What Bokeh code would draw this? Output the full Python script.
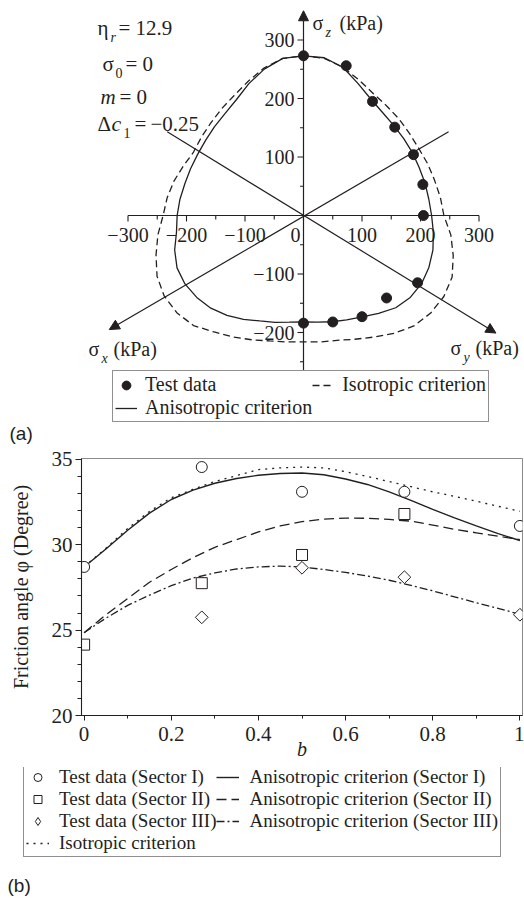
import numpy as np
from bokeh.plotting import figure
from bokeh.models import (Range1d, Arrow, NormalHead, Legend, LegendItem, Label,
                          FixedTicker, CustomJSTickFormatter)
from bokeh.layouts import column
from bokeh.core.properties import value
from bokeh.embed import file_html
from bokeh.resources import INLINE

INK = "#231f20"
SERIF = "Liberation Serif"
SANS = "Liberation Sans"

# ---------------- panel (a) data (kPa, deviatoric plane) ----------------
test_sx = [0, 73, 118, 156, 188, 204, 205, 195, 142, 100, 50, 0]
test_sz = [273, 256, 195, 151, 104, 53, 0, -115, -141, -173, -182, -184]

curve_angle_deg = [0, 7.5, 15, 22.5, 30, 37.5, 45, 52.5, 60, 67.5, 75, 82.5,
                   90, 97.5, 105, 112.5, 120, 127.5, 135, 142.5, 150, 157.5, 165, 172.5,
                   180, 187.5, 195, 202.5, 210, 217.5, 225, 232.5, 240, 247.5, 255, 262.5,
                   270, 277.5, 285, 292.5, 300, 307.5, 315, 322.5, 330, 337.5, 345, 352.5]
aniso_radius = [219, 216, 215, 214, 215, 216, 218, 222, 230, 244, 262, 272,
                273, 271, 259, 244, 229, 220, 215, 211, 209, 209, 210, 213,
                216, 219, 228, 234, 234, 230, 224, 215, 205, 195, 189, 184,
                182, 184, 188, 193, 200, 211, 223, 230, 233, 232, 229, 224]
iso_radius = [240, 236, 232, 230, 228, 229, 232, 235, 240, 250, 262, 271,
              273, 271, 261, 248, 237, 230, 224, 220, 217, 222, 229, 235,
              240, 251, 261, 271, 275, 273, 266, 251, 240, 230, 222, 218,
              216, 218, 221, 229, 240, 254, 267, 274, 277, 275, 265, 254]

h_tick_values = [-300, -250, -200, -150, -100, -50, 0, 50, 100, 150, 200, 250, 300]
h_label_values = [-300, -200, -100, 0, 100, 200, 300]
h_labels = ["\u2212300", "\u2212200", "\u2212100", "0", "100", "200", "300"]
v_tick_values = [-250, -200, -150, -100, -50, 50, 100, 150, 200, 250, 300]
v_label_values = [300, 200, 100, -100, -200]
v_labels = ["300", "200", "100", "\u2212100", "\u2212200"]

# axis line end points (kPa): [start, arrow tip]
sz_axis_x, sz_axis_y = [0, 0], [-268, 350]
sx_axis_x, sx_axis_y = [248, -332], [143, -195]
sy_axis_x, sy_axis_y = [-233, 329], [143, -201]
h_axis_x = [-300, 300]

# ---------------- panel (b) data ----------------
b_test_1 = [0, 0.27, 0.5, 0.735, 1.0]
phi_test_1 = [28.7, 34.55, 33.1, 33.1, 31.1]
b_test_2 = [0, 0.27, 0.5, 0.735]
phi_test_2 = [24.15, 27.75, 29.4, 31.8]
b_test_3 = [0.27, 0.5, 0.735, 1.0]
phi_test_3 = [25.75, 28.65, 28.1, 25.9]

b_curve = [0, 0.05, 0.1, 0.15, 0.2, 0.25, 0.3, 0.35, 0.4, 0.45, 0.5,
           0.55, 0.6, 0.65, 0.7, 0.75, 0.8, 0.85, 0.9, 0.95, 1.0]
phi_aniso_1 = [28.7, 29.75, 30.85, 31.85, 32.65, 33.2, 33.6, 33.88, 34.07, 34.17, 34.2,
               34.1, 33.85, 33.53, 33.1, 32.6, 32.07, 31.57, 31.1, 30.65, 30.25]
phi_aniso_2 = [24.85, 25.9, 26.85, 27.8, 28.55, 29.25, 29.85, 30.3, 30.75, 31.1, 31.35,
               31.5, 31.56, 31.55, 31.48, 31.38, 31.15, 30.9, 30.7, 30.5, 30.3]
phi_aniso_3 = [24.85, 25.7, 26.45, 27.05, 27.6, 28.05, 28.35, 28.58, 28.7, 28.75, 28.7,
               28.55, 28.38, 28.17, 27.92, 27.62, 27.3, 26.95, 26.6, 26.27, 25.93]
phi_iso = [28.7, 29.8, 30.95, 31.95, 32.75, 33.25, 33.7, 34.05, 34.4, 34.5, 34.55,
           34.5, 34.28, 34.0, 33.7, 33.4, 33.1, 32.83, 32.55, 32.25, 31.96]

b_ticks = [0, 0.2, 0.4, 0.6, 0.8, 1.0]
b_minor = [0.1, 0.3, 0.5, 0.7, 0.9]
phi_ticks = [20, 25, 30, 35]
phi_minor = list(range(20, 36))

# =============== panel (a) ===============
WA, HA = 524, 448
S = 0.585          # px per kPa
OX, OY = 303, 215  # pixel position of origin


def X(px):
    return (px - OX) / S


def Y(py):
    return (OY - py) / S


def L(px):
    return px / S


pa = figure(width=WA, height=HA, x_range=Range1d(X(0), X(WA)), y_range=Range1d(Y(HA), Y(0)),
            x_axis_type=None, y_axis_type=None, toolbar_location=None,
            output_backend="svg", min_border=0, outline_line_color=None)
pa.frame_align = False


def txt(p, x, y, s, size, style="normal", align="left", font=SERIF):
    p.text(x=[X(x)], y=[Y(y)], text=[s], text_font=value(font),
           text_font_size=f"{size}px", text_font_style=style, text_align=align,
           text_baseline="middle", text_color=INK)


th = np.deg2rad(np.array(curve_angle_deg + [curve_angle_deg[0]], dtype=float))
ra = np.array(aniso_radius + [aniso_radius[0]], dtype=float)
ri = np.array(iso_radius + [iso_radius[0]], dtype=float)
r_iso = pa.line(ri * np.cos(th), ri * np.sin(th), line_color=INK, line_width=1.3, line_dash="7 4")
r_ani = pa.line(ra * np.cos(th), ra * np.sin(th), line_color=INK, line_width=1.3)

# axes
pa.segment(x0=[h_axis_x[0]], y0=[0], x1=[h_axis_x[1]], y1=[0], line_color=INK, line_width=1.2)
for ax_x, ax_y in [(sz_axis_x, sz_axis_y), (sx_axis_x, sx_axis_y), (sy_axis_x, sy_axis_y)]:
    pa.add_layout(Arrow(end=NormalHead(size=10, fill_color=INK, line_color=INK, line_width=1),
                        x_start=ax_x[0], y_start=ax_y[0], x_end=ax_x[1], y_end=ax_y[1],
                        line_color=INK, line_width=1.2))

h_len = [L(6) if v % 100 == 0 else L(4) for v in h_tick_values]
pa.segment(x0=h_tick_values, y0=[0] * len(h_tick_values), x1=h_tick_values,
           y1=[-l for l in h_len], line_color=INK, line_width=1.1)
v_len = [L(6) if v % 100 == 0 else L(3.5) for v in v_tick_values]
pa.segment(x0=[0] * len(v_tick_values), y0=v_tick_values, x1=[-l for l in v_len],
           y1=v_tick_values, line_color=INK, line_width=1.1)

hx = [v if v != 0 else -L(8) for v in h_label_values]
pa.text(x=hx, y=[-L(19)] * len(hx), text=h_labels, text_font=value(SERIF), text_font_size="20px",
        text_align="center", text_baseline="middle", text_color=INK)
pa.text(x=[-L(9)] * len(v_label_values), y=v_label_values, text=v_labels, text_font=value(SERIF),
        text_font_size="20px", text_align="right", text_baseline="middle", text_color=INK)

# axis names
txt(pa, 312, 22, "\u03c3", 20)
txt(pa, 325, 32, "z", 14, "italic")
txt(pa, 339, 22, "(kPa)", 20)
txt(pa, 88, 348, "\u03c3", 20)
txt(pa, 101, 358, "x", 14, "italic")
txt(pa, 113, 348, "(kPa)", 20)
txt(pa, 450, 347, "\u03c3", 20)
txt(pa, 463, 357, "y", 14, "italic")
txt(pa, 475, 347, "(kPa)", 20)

# parameters
txt(pa, 97, 27, "\u03b7", 21)
txt(pa, 110, 37, "r", 14, "italic")
txt(pa, 118, 27, "= 12.9", 21)
txt(pa, 102, 63, "\u03c3", 21)
txt(pa, 115, 72, "0", 14)
txt(pa, 125, 63, "= 0", 21)
txt(pa, 100, 96, "m", 21, "italic")
txt(pa, 119, 96, "= 0", 21)
txt(pa, 97, 123, "\u0394", 21)
txt(pa, 111, 123, "c", 22, "italic")
txt(pa, 123, 132, "1", 14)
txt(pa, 134, 123, "=", 21)
txt(pa, 150, 123, "\u22120.25", 21)

r_test = pa.scatter(test_sx, test_sz, marker="circle", size=10, fill_color=INK, line_color=INK)

leg_a = Legend(items=[LegendItem(label="Test data", renderers=[r_test]),
                      LegendItem(label="Anisotropic criterion", renderers=[r_ani]),
                      LegendItem(label="Isotropic criterion", renderers=[r_iso])],
               location=(112, HA - 422), orientation="vertical", nrows=2,
               label_text_font=SERIF, label_text_font_size="20px", label_text_color=INK,
               label_text_line_height=1.12,
               border_line_color=INK, border_line_width=1, background_fill_color="white",
               background_fill_alpha=1, padding=2, spacing=0, margin=0,
               glyph_width=22, glyph_height=22, label_height=20, label_standoff=8)
pa.add_layout(leg_a)
pa.add_layout(Label(x=9, y=HA - 433, x_units="screen", y_units="screen", text="(a)",
                    text_font=SANS, text_font_size="19px", text_color=INK, text_baseline="middle"))

# =============== panel (b) ===============
WB, HB = 524, 319
pb = figure(width=WB, height=HB, x_range=Range1d(-0.006, 1.006), y_range=Range1d(20, 35.05),
            toolbar_location=None, output_backend="svg",
            min_border_left=81, min_border_right=2, min_border_top=10, min_border_bottom=52)
pb.frame_align = False
pb.grid.visible = False
pb.outline_line_color = "#8a8a8a"
pb.outline_line_width = 1

pb.xaxis.ticker = FixedTicker(ticks=b_ticks, minor_ticks=b_minor)
pb.xaxis.formatter = CustomJSTickFormatter(
    code="return (Math.abs(tick) < 1e-9) ? '0' : (Math.abs(tick - 1) < 1e-9 ? '1' : tick.toFixed(1));")
pb.yaxis.ticker = FixedTicker(ticks=phi_ticks, minor_ticks=phi_minor)
for ax in (pb.xaxis[0], pb.yaxis[0]):
    ax.axis_line_color = INK
    ax.axis_line_width = 1.1
    ax.major_tick_line_color = INK
    ax.minor_tick_line_color = INK
    ax.major_tick_in = 0
    ax.minor_tick_in = 0
    ax.major_label_text_font = SERIF
    ax.major_label_text_font_size = "21px"
    ax.major_label_text_color = INK
    ax.axis_label_text_font = SERIF
    ax.axis_label_text_font_size = "20px"
    ax.axis_label_text_color = INK
pb.xaxis.major_tick_out = 5
pb.xaxis.minor_tick_out = 3
pb.xaxis.major_label_standoff = 6
pb.xaxis.axis_label = "b"
pb.xaxis.axis_label_text_font_style = "italic"
pb.xaxis.axis_label_standoff = -6
pb.yaxis.major_tick_out = 6
pb.yaxis.minor_tick_out = 4
pb.yaxis.major_label_standoff = 3
pb.yaxis.axis_label = "Friction angle \u03c6 (Degree)"
pb.yaxis.axis_label_text_font_style = "normal"
pb.yaxis.axis_label_standoff = 17

LINE_STYLES = dict(iso=dict(line_width=1.3, line_dash="2 5"),
                   a1=dict(line_width=1.4, line_dash="solid"),
                   a2=dict(line_width=1.3, line_dash="10 5"),
                   a3=dict(line_width=1.3, line_dash="8 3 2 3"))
MARKERS = dict(s1=dict(marker="circle", size=11, angle=0),
               s2=dict(marker="square", size=11, angle=0),
               s3=dict(marker="square", size=9, angle=np.pi / 4))
# legend keys cannot be rotated, so the Sector III key uses Bokeh's diamond marker
LEGEND_MARKERS = dict(s1=MARKERS["s1"], s2=MARKERS["s2"],
                      s3=dict(marker="diamond", size=13, angle=0))


def draw_b(p, markers):
    rs = {}
    rs["iso"] = p.line(b_curve, phi_iso, line_color=INK, **LINE_STYLES["iso"])
    rs["a1"] = p.line(b_curve, phi_aniso_1, line_color=INK, **LINE_STYLES["a1"])
    rs["a2"] = p.line(b_curve, phi_aniso_2, line_color=INK, **LINE_STYLES["a2"])
    rs["a3"] = p.line(b_curve, phi_aniso_3, line_color=INK, **LINE_STYLES["a3"])
    rs["s1"] = p.scatter(b_test_1, phi_test_1, fill_color="white", line_color=INK,
                         line_width=1, **markers["s1"])
    rs["s2"] = p.scatter(b_test_2, phi_test_2, fill_color="white", line_color=INK,
                         line_width=1, **markers["s2"])
    rs["s3"] = p.scatter(b_test_3, phi_test_3, fill_color="white", line_color=INK,
                         line_width=1, **markers["s3"])
    return rs


draw_b(pb, MARKERS)

# =============== legend strip of panel (b) ===============
# same series drawn again in a strip whose ranges hide them; they only feed the legend
WC, HC = 524, 898 - HA - HB
pc = figure(width=WC, height=HC, x_range=Range1d(0, 1), y_range=Range1d(0, 1),
            x_axis_type=None, y_axis_type=None, toolbar_location=None,
            output_backend="svg", min_border=0, outline_line_color=None)
pc.frame_align = False
k = draw_b(pc, LEGEND_MARKERS)

leg_b = Legend(items=[LegendItem(label="Test data (Sector I)", renderers=[k["s1"]]),
                      LegendItem(label="Test data (Sector II)", renderers=[k["s2"]]),
                      LegendItem(label="Test data (Sector III)", renderers=[k["s3"]]),
                      LegendItem(label="Isotropic criterion", renderers=[k["iso"]]),
                      LegendItem(label="Anisotropic criterion (Sector I)", renderers=[k["a1"]]),
                      LegendItem(label="Anisotropic criterion (Sector II)", renderers=[k["a2"]]),
                      LegendItem(label="Anisotropic criterion (Sector III)", renderers=[k["a3"]])],
               location=(23, 41), orientation="vertical", nrows=4,
               label_text_font=SERIF, label_text_font_size="19px", label_text_color=INK,
               label_text_line_height=1.09,
               border_line_color=INK, border_line_width=1, background_fill_color="white",
               background_fill_alpha=1, padding=2, spacing=0, margin=0,
               glyph_width=23, glyph_height=20, label_height=18, label_standoff=10)
pc.add_layout(leg_b)
pc.add_layout(Label(x=7, y=HC - (885 - HA - HB), x_units="screen", y_units="screen", text="(b)",
                    text_font=SANS, text_font_size="19px", text_color=INK, text_baseline="middle"))

layout = column(pa, pb, pc)
open("out.html", "w").write(file_html(layout, INLINE))
